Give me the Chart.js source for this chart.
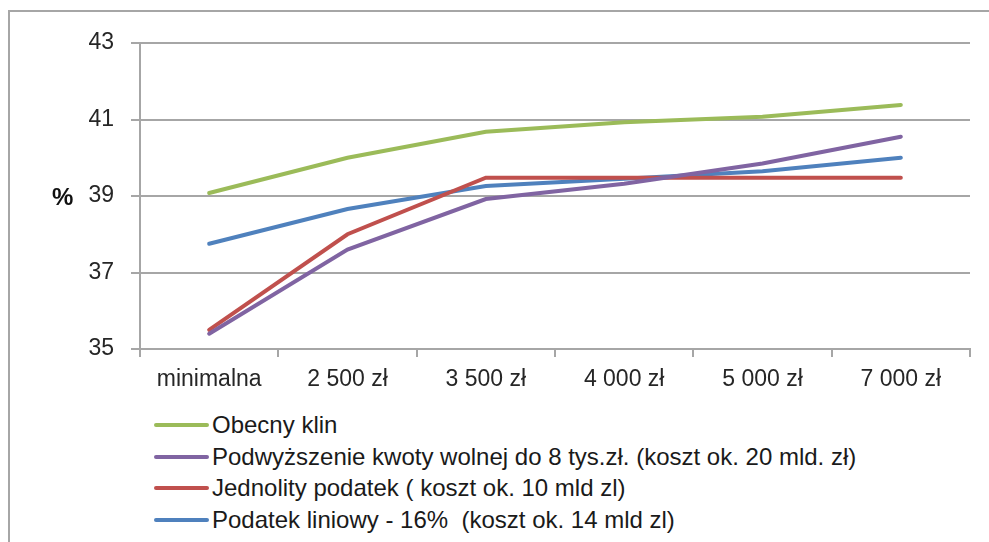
<!DOCTYPE html>
<html>
<head>
<meta charset="utf-8">
<script src="https://cdn.jsdelivr.net/npm/chart.js@4/dist/chart.umd.min.js"></script>
<style>
  body { margin: 0; background: #fff; font-family: "Liberation Sans", Arial, sans-serif; }
  #frame { position: absolute; left: 8px; top: 10px; width: 1000px; height: 560px;
           border-left: 2px solid #a6a6a6; border-top: 2px solid #a6a6a6; }
  #wrap { position: absolute; left: 0; top: 0; width: 989px; height: 400px; }
  #unit { position: absolute; left: 52px; top: 183px; font-size: 24px; font-weight: bold; color: #111; }
  #legend { position: absolute; left: 154px; top: 409px; font-size: 24px; color: #1a1a1a; }
  .row { height: 31.7px; display: flex; align-items: center; white-space: pre; }
  .swatch { width: 55px; height: 4px; margin-right: 3px; border-radius: 2px; }
</style>
</head>
<body>
<div id="frame"></div>
<div id="wrap"><canvas id="chart"></canvas></div>
<div id="unit">%</div>
<div id="legend"></div>
<script>
const categories = ['minimalna', '2 500 zł', '3 500 zł', '4 000 zł', '5 000 zł', '7 000 zł']
const obecnyKlin = [39.08, 40.0, 40.68, 40.93, 41.07, 41.38]
const kwotaWolna = [35.4, 37.6, 38.92, 39.32, 39.85, 40.55]
const jednolity = [35.5, 38.0, 39.48, 39.48, 39.48, 39.48]
const liniowy = [37.75, 38.66, 39.26, 39.45, 39.65, 40.0]
const yTicks = [35, 37, 39, 41, 43]

const gridColor = '#a6a6a6'
const textColor = '#262626'

let chartElement = document.getElementById('chart').getContext('2d')

let chart = new Chart(chartElement, {
    type: 'line',
    data: {
        labels: categories,
        datasets: [
            { label: 'Obecny klin', data: obecnyKlin, borderColor: '#9bbb59' },
            { label: 'Podwyższenie kwoty wolnej do 8 tys.zł. (koszt ok. 20 mld. zł)', data: kwotaWolna, borderColor: '#8064a2' },
            { label: 'Jednolity podatek ( koszt ok. 10 mld zl)', data: jednolity, borderColor: '#c0504d' },
            { label: 'Podatek liniowy - 16%  (koszt ok. 14 mld zl)', data: liniowy, borderColor: '#4f81bd' }
        ]
    },
    options: {
        responsive: true,
        maintainAspectRatio: false,
        animation: false,
        layout: { padding: { top: 43, right: 19, left: 0, bottom: 0 } },
        elements: {
            line: { borderWidth: 4, tension: 0, borderCapStyle: 'round' },
            point: { radius: 0 }
        },
        plugins: { legend: { display: false }, tooltip: { enabled: false } },
        scales: {
            x: {
                offset: true,
                grid: { offset: true, drawOnChartArea: false, drawTicks: true, tickLength: 8, color: gridColor, lineWidth: 2 },
                border: { color: gridColor, width: 2 },
                ticks: { color: textColor, font: { size: 23, family: '"Liberation Sans", Arial' }, padding: 9, maxRotation: 0 },
                afterFit: scale => { scale.height = 51 }
            },
            y: {
                min: 35,
                max: 43,
                afterBuildTicks: scale => { scale.ticks = yTicks.map(v => ({ value: v })) },
                grid: { color: gridColor, lineWidth: 2, tickLength: 9 },
                border: { color: gridColor, width: 2 },
                ticks: { color: textColor, font: { size: 23, family: '"Liberation Sans", Arial' }, padding: 17 },
                afterFit: scale => { scale.width = 140 }
            }
        }
    }
})

// legend rows built from the datasets, one per line like the original
let legendElement = document.getElementById('legend')
chart.data.datasets.forEach(ds => {
    let row = document.createElement('div')
    row.className = 'row'
    let swatch = document.createElement('div')
    swatch.className = 'swatch'
    swatch.style.background = ds.borderColor
    let text = document.createElement('span')
    text.textContent = ds.label
    row.appendChild(swatch)
    row.appendChild(text)
    legendElement.appendChild(row)
})
</script>
</body>
</html>
